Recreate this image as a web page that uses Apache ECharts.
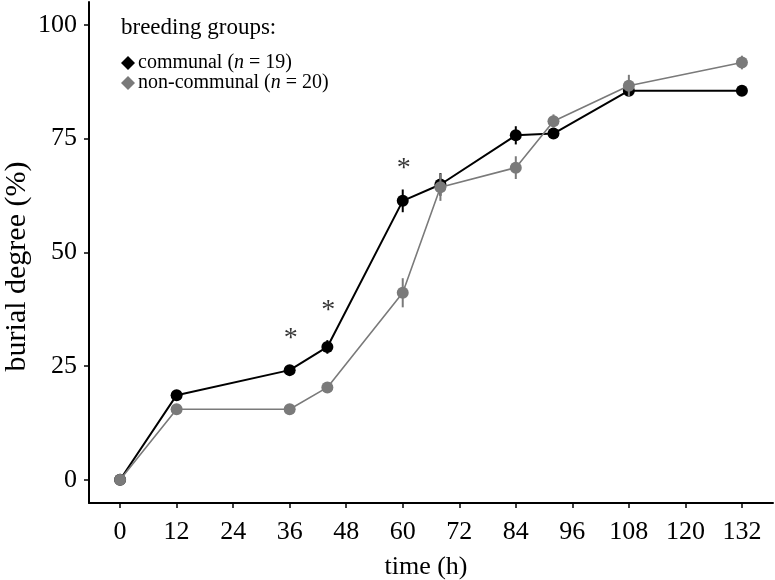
<!DOCTYPE html>
<html>
<head>
<meta charset="utf-8">
<script src="https://cdn.jsdelivr.net/npm/echarts@6/dist/echarts.min.js"></script>
<style>
  html, body { margin: 0; padding: 0; background: #fff; }
  #chart { width: 775px; height: 580px; }
</style>
</head>
<body>
<div id="chart"></div>
<script>
// sampling times (h)
var times = [0, 12, 36, 44, 60, 68, 84, 92, 108, 132];
// mean burial degree (%) and error (+/-)
var communal = [0, 18.6, 24.1, 29.2, 61.3, 64.9, 75.7, 76.1, 85.5, 85.5];
var communalErr = [0, 0.5, 1.0, 1.5, 2.5, 2.5, 2.0, 1.0, 0.5, 0.5];
var nonCommunal = [0, 15.5, 15.5, 20.3, 41.1, 64.3, 68.6, 78.8, 86.6, 91.7];
var nonCommunalErr = [0, 0.5, 0.5, 0.5, 3.2, 3.0, 2.5, 1.5, 2.4, 1.5];
// significance asterisks
var sigTimes = [36, 44, 60];
var sigLevels = [32.1, 38.2, 69.4];
// axis ticks
var xTicks = [0, 12, 24, 36, 48, 60, 72, 84, 96, 108, 120, 132];
var yTicks = [0, 25, 50, 75, 100];

var FONT = '"Liberation Serif", "DejaVu Serif", serif';
var BLACK = '#000000';
var GREY = '#7a7a7a';

function pairs(vals) {
  return times.map(function (t, i) { return [t, vals[i]]; });
}
function errRows(vals, errs) {
  return times.map(function (t, i) { return [t, vals[i] - errs[i], vals[i] + errs[i]]; });
}
function errSeries(vals, errs, color, z) {
  return {
    type: 'custom',
    z: z,
    silent: true,
    data: errRows(vals, errs),
    renderItem: function (params, api) {
      var a = api.coord([api.value(0), api.value(1)]);
      var b = api.coord([api.value(0), api.value(2)]);
      return {
        type: 'line',
        shape: { x1: a[0], y1: a[1], x2: b[0], y2: b[1] },
        style: { stroke: color, lineWidth: 2 }
      };
    }
  };
}

var chart = echarts.init(document.getElementById('chart'));
chart.setOption({
  animation: false,
  backgroundColor: '#fff',
  title: {
    text: 'breeding groups:',
    left: 116,
    top: 11,
    textStyle: { fontFamily: FONT, fontSize: 23, fontWeight: 'normal', color: '#000' }
  },
  legend: {
    orient: 'vertical',
    left: 116,
    top: 48,
    itemGap: 0,
    itemWidth: 14,
    itemHeight: 14,
    data: [
      { name: 'communal', icon: 'diamond' },
      { name: 'non-communal', icon: 'diamond' }
    ],
    formatter: function (name) {
      return name === 'communal' ? 'communal ({i|n} = 19)' : 'non-communal ({i|n} = 20)';
    },
    textStyle: {
      fontFamily: FONT, fontSize: 20, lineHeight: 19, color: '#000', padding: [0, 0, 0, -2],
      rich: { i: { fontStyle: 'italic', fontFamily: FONT, fontSize: 20, lineHeight: 19 } }
    }
  },
  grid: { left: 89, right: 2, top: 2, bottom: 77, outerBoundsMode: 'none', containLabel: false },
  xAxis: {
    type: 'value',
    min: -6.6,
    max: 138.6,
    name: 'time (h)',
    nameLocation: 'middle',
    nameGap: 51,
    nameTextStyle: { fontFamily: FONT, fontSize: 26, color: '#000', padding: [0, 10, 0, 0] },
    splitLine: { show: false },
    axisLine: { onZero: false, lineStyle: { color: '#000', width: 2 } },
    axisTick: { customValues: xTicks, length: 5, lineStyle: { color: '#000', width: 1.5 } },
    axisLabel: { customValues: xTicks, margin: 16, fontFamily: FONT, fontSize: 26, color: '#000' }
  },
  yAxis: {
    type: 'value',
    min: -5.1,
    max: 105,
    name: 'burial degree (%)',
    nameLocation: 'middle',
    nameGap: 57,
    nameMoveOverlap: false,
    nameTextStyle: { fontFamily: FONT, fontSize: 30, color: '#000', padding: [0, 28, 0, 0] },
    splitLine: { show: false },
    axisLine: { show: true, onZero: false, lineStyle: { color: '#000', width: 2 } },
    axisTick: { show: true, customValues: yTicks, length: 5, lineStyle: { color: '#000', width: 1.5 } },
    axisLabel: { customValues: yTicks, margin: 12, fontFamily: FONT, fontSize: 26, color: '#000' }
  },
  series: [
    {
      name: 'communal',
      type: 'line',
      z: 3,
      data: pairs(communal),
      symbol: 'circle',
      symbolSize: 12,
      lineStyle: { color: BLACK, width: 2 },
      itemStyle: { color: BLACK },
      emphasis: { disabled: true }
    },
    errSeries(communal, communalErr, BLACK, 3),
    {
      name: 'non-communal',
      type: 'line',
      z: 4,
      data: pairs(nonCommunal),
      symbol: 'circle',
      symbolSize: 12,
      lineStyle: { color: GREY, width: 1.6 },
      itemStyle: { color: GREY },
      emphasis: { disabled: true }
    },
    errSeries(nonCommunal, nonCommunalErr, GREY, 4),
    {
      type: 'scatter',
      z: 5,
      silent: true,
      symbolSize: 1,
      itemStyle: { color: 'rgba(0,0,0,0)' },
      data: sigTimes.map(function (t, i) { return [t, sigLevels[i]]; }),
      label: {
        show: true,
        position: 'inside',
        formatter: '*',
        fontFamily: FONT,
        fontSize: 28,
        color: '#000',
        offset: [1, 5]
      }
    }
  ]
});
</script>
</body>
</html>
